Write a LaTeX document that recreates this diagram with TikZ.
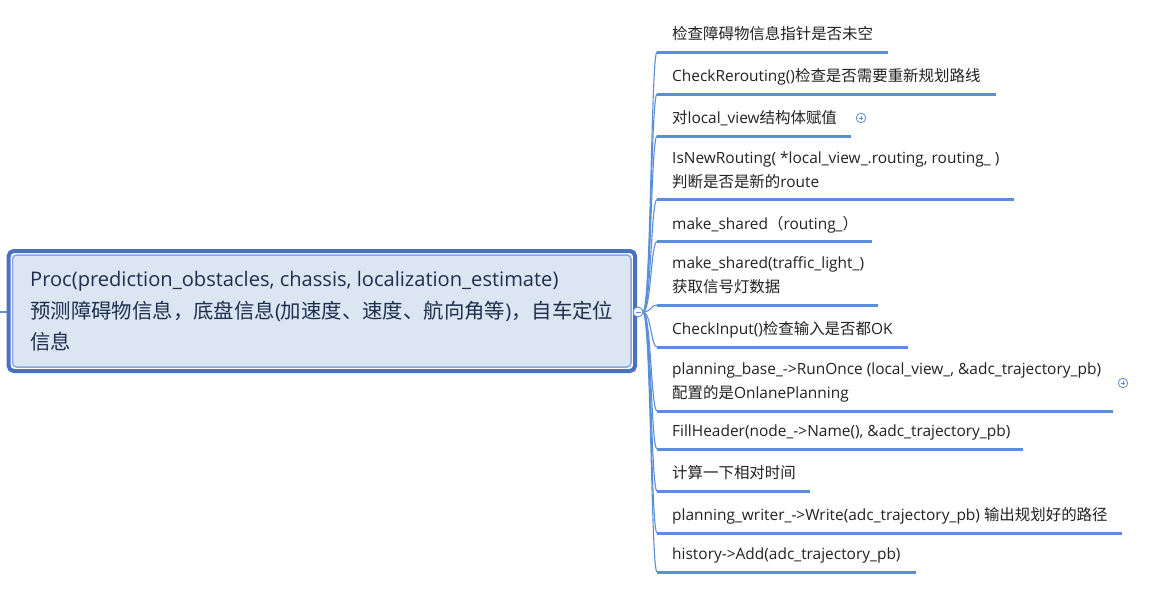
\documentclass[tikz,border=0pt]{standalone}
\usepackage{fontspec}
\setmainfont{Open Sans}
\newfontfamily\cjk{Noto Sans CJK SC}
\newfontfamily\cjkroot[Scale=1.015]{Noto Sans CJK SC}
\newcommand\zh[1]{{\cjk #1}}
\newcommand\zhr[1]{{\cjkroot #1}}
\definecolor{ublue}{HTML}{5B8ED8}
\definecolor{rootborder}{HTML}{4A70C0}
\definecolor{rootinner}{HTML}{86A8E0}
\definecolor{rootfill}{HTML}{DCE6F2}
\definecolor{roottext}{HTML}{1E2E4E}
\definecolor{itemtext}{HTML}{222222}
\tikzset{
  uline/.style={draw=ublue, line width=3pt},
  conn/.style={draw=ublue, line width=1.1pt},
  itemtext/.style={anchor=base west, inner sep=0pt, text=itemtext, font=\fontsize{15.45}{24}\selectfont, align=left},
  roottxt/.style={anchor=base west, inner sep=0pt, text=roottext, font=\fontsize{20.1}{31}\selectfont},
  plusicon/.style={circle, draw=ublue, line width=0.8pt, minimum size=9.5pt, inner sep=0pt, fill=white},
}
\begin{document}
\begin{tikzpicture}[x=1pt,y=-1pt]
\useasboundingbox[fill=white] (0,0) rectangle (1163,597);
% root box
\node[draw=rootborder, line width=4pt, rounded corners=5pt, fill=white, minimum width=626.3pt, minimum height=120pt, inner sep=0pt] (root) at (321.85,311) {};
\node[draw=rootinner, line width=1.5pt, rounded corners=4pt, fill=rootfill, minimum width=618.5pt, minimum height=112pt, inner sep=0pt] (rootin) at (321.75,311) {};
\node[roottxt] (r1) at (30,286) {Proc(prediction\_obstacles, chassis, localization\_estimate)};
\node[roottxt] (r2) at (30,318.5) {\zhr{预测障碍物信息，底盘信息}(\zhr{加速度、速度、航向角等})\zhr{，自车定位}};
\node[roottxt] (r3) at (30,349.5) {\zhr{信息}};
\coordinate (lin) at (0,312);
\draw[conn] (lin) -- (root.west |- lin);
\coordinate (port) at (643,312);
% items: underline y and end x
\foreach \n/\y/\e in {1/52/888, 2/94/996, 3/136/851, 4/199.5/1014, 5/241.5/872, 6/305/878, 7/347/908, 8/411/1113, 9/449/1023, 10/491/810, 11/533/1122, 12/572/916}{
  \coordinate (u\n) at (657,\y);
  \coordinate (e\n) at (\e,\y);
  \draw[conn] (port) .. controls (651,312) and (651,\y) .. (u\n);
  \draw[uline] (u\n) -- (e\n);
}
\node[circle, draw=ublue, line width=0.9pt, fill=white, minimum size=10pt, inner sep=0pt] (col) at (638,312) {};
\draw[ublue, line width=0.8pt] ([xshift=-2.5pt]col.center) -- ([xshift=2.5pt]col.center);
% texts
\node[itemtext] (t1) at (672,39.5) {\zh{检查障碍物信息指针是否未空}};
\node[itemtext] (t2) at (672,81.5) {CheckRerouting()\zh{检查是否需要重新规划路线}};
\node[itemtext] (t3) at (672,123.5) {\zh{对}local\_view\zh{结构体赋值}};
\node[itemtext] (t4a) at (672,163) {IsNewRouting( *local\_view\_.routing, routing\_ )};
\node[itemtext] (t4b) at (672,187) {\zh{判断是否是新的}route};
\node[itemtext] (t5) at (672,229) {make\_shared\zh{（}routing\_\zh{）}};
\node[itemtext] (t6a) at (672,268.5) {make\_shared(traffic\_light\_)};
\node[itemtext] (t6b) at (672,292.5) {\zh{获取信号灯数据}};
\node[itemtext] (t7) at (672,334.5) {CheckInput()\zh{检查输入是否都}OK};
\node[itemtext] (t8a) at (672,374.5) {planning\_base\_->RunOnce (local\_view\_, \&adc\_trajectory\_pb)};
\node[itemtext] (t8b) at (672,398.5) {\zh{配置的是}OnlanePlanning};
\node[itemtext] (t9) at (672,436.5) {FillHeader(node\_->Name(), \&adc\_trajectory\_pb)};
\node[itemtext] (t10) at (672,478.5) {\zh{计算一下相对时间}};
\node[itemtext] (t11) at (672,520.5) {planning\_writer\_->Write(adc\_trajectory\_pb) \zh{输出规划好的路径}};
\node[itemtext] (t12) at (672,559.5) {history->Add(adc\_trajectory\_pb)};
% plus icons
\node[plusicon] (p3) at (861,118) {};
\draw[ublue, line width=0.7pt] ([xshift=-2.3pt]p3.center) -- ([xshift=2.3pt]p3.center) ([yshift=-2.3pt]p3.center) -- ([yshift=2.3pt]p3.center);
\node[plusicon] (p8) at (1123,383) {};
\draw[ublue, line width=0.7pt] ([xshift=-2.3pt]p8.center) -- ([xshift=2.3pt]p8.center) ([yshift=-2.3pt]p8.center) -- ([yshift=2.3pt]p8.center);
\end{tikzpicture}
\end{document}
